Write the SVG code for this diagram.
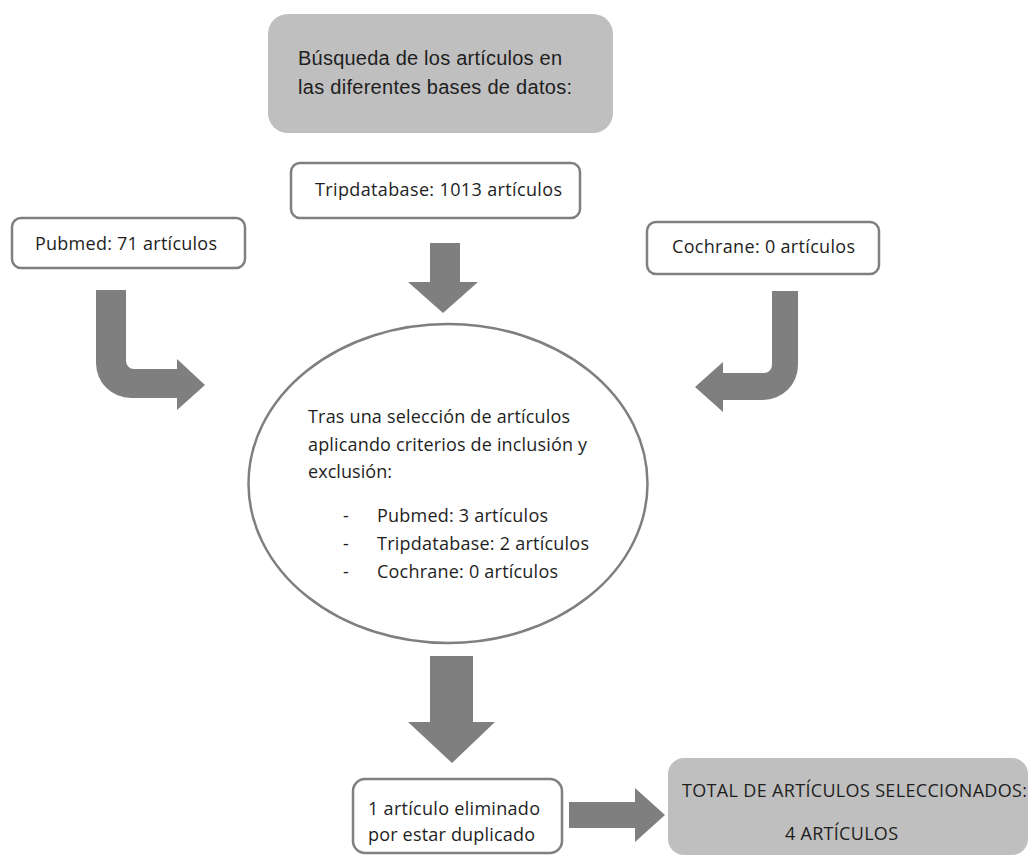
<svg xmlns="http://www.w3.org/2000/svg" width="1030" height="855" viewBox="0 0 1030 855">
  <style>
    .grey { fill: #bfbfbf; stroke: none; }
    .box { fill: #ffffff; stroke: #7f7f7f; stroke-width: 2.5; }
    .arrow { fill: #7f7f7f; stroke: none; }
    .t { font-family: "Open Sans", "Noto Sans", "DejaVu Sans", sans-serif; font-size: 18px; fill: #1e1e1e; }
    .ta { font-family: "Liberation Sans", Arial, sans-serif; font-size: 20px; fill: #1e1e1e; }
  </style>
  <rect x="0" y="0" width="1030" height="855" fill="#ffffff"/>

  <g id="connectors">
    <path class="arrow" d="M430,243 H460 V282 H478 L443,313 L408,282 H430 Z"/>
    <path class="arrow" d="M96,290 H126 V361 A8,8 0 0 0 134,369 H177 V359 L205,385 L177,410 V398 H131 A35,35 0 0 1 96,363 Z"/>
    <path class="arrow" d="M772,291 H798 V365 A35,35 0 0 1 763,400 H723 V412 L695,387 L723,362 V373 H764 A8,8 0 0 0 772,365 Z"/>
    <path class="arrow" d="M430,656 H473 V722 H495 L452,763 L408,722 H430 Z"/>
    <path class="arrow" d="M569,802 H635 V788 L665,815 L635,842 V828 H569 Z"/>
  </g>

  <g id="busqueda">
    <rect class="grey" x="268" y="14" width="345" height="119" rx="20"/>
    <text class="ta" x="298" y="65" textLength="264">Búsqueda de los artículos en</text>
    <text class="ta" x="298" y="94" textLength="274">las diferentes bases de datos:</text>
  </g>

  <g id="tripdatabase">
    <rect class="box" x="291" y="163" width="289" height="55" rx="9"/>
    <text class="t" x="315" y="196" textLength="247">Tripdatabase: 1013 artículos</text>
  </g>

  <g id="pubmed">
    <rect class="box" x="12" y="218" width="233" height="50" rx="9"/>
    <text class="t" x="35" y="250" textLength="182">Pubmed: 71 artículos</text>
  </g>

  <g id="cochrane">
    <rect class="box" x="647" y="222" width="232" height="52" rx="9"/>
    <text class="t" x="672" y="253" textLength="183">Cochrane: 0 artículos</text>
  </g>

  <g id="seleccion">
    <ellipse class="box" cx="448" cy="483.5" rx="199.5" ry="159.5"/>
    <text class="t" x="308" y="423" textLength="262">Tras una selección de artículos</text>
    <text class="t" x="308" y="451" textLength="279">aplicando criterios de inclusión y</text>
    <text class="t" x="308" y="478" textLength="84">exclusión:</text>
    <text class="t" x="343" y="522">-</text>
    <text class="t" x="377" y="522" textLength="171">Pubmed: 3 artículos</text>
    <text class="t" x="343" y="550">-</text>
    <text class="t" x="377" y="550" textLength="212">Tripdatabase: 2 artículos</text>
    <text class="t" x="343" y="578">-</text>
    <text class="t" x="377" y="578" textLength="181">Cochrane: 0 artículos</text>
  </g>

  <g id="eliminado">
    <rect class="box" x="353" y="779" width="209" height="74" rx="12"/>
    <text class="t" x="368" y="815" textLength="172">1 artículo eliminado</text>
    <text class="t" x="368" y="841" textLength="167">por estar duplicado</text>
  </g>

  <g id="total">
    <rect class="grey" x="668" y="758" width="360" height="97" rx="16"/>
    <text class="t" x="682" y="797" textLength="345">TOTAL DE ARTÍCULOS SELECCIONADOS:</text>
    <text class="t" x="785" y="840" textLength="113">4 ARTÍCULOS</text>
  </g>
</svg>
